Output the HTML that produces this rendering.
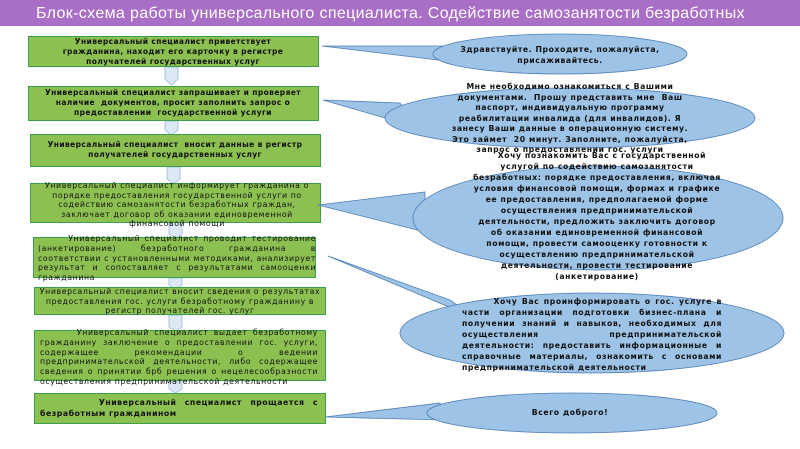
<!DOCTYPE html>
<html><head><meta charset="utf-8"><style>
body{margin:0;width:800px;height:449px;background:#fff;position:relative;overflow:hidden;font-family:"DejaVu Sans","Liberation Sans",sans-serif;}
.hd{position:absolute;left:0;top:0;width:800px;height:26px;background:#a96ec6;color:#fff;font:16px "Liberation Sans",sans-serif;padding-left:36px;box-sizing:border-box;line-height:27px;letter-spacing:0.35px;white-space:nowrap}
svg{position:absolute;left:0;top:0}
.t{position:absolute;font-size:7.5px;line-height:10px;color:#111;text-align:center;letter-spacing:0.4px}
.r{letter-spacing:0.6px;font-size:7.8px}
.b{font-weight:bold}
.e{font-weight:bold;font-size:7.7px;letter-spacing:0.6px}
.j{text-align:justify;text-align-last:left}
</style></head><body>
<div class="hd">Блок-схема работы универсального специалиста. Содействие самозанятости безработных</div>
<svg width="800" height="449">
<g fill="#dce9f5" stroke="#a8c4e0" stroke-width="1">
<path d="M165 67 h13 v12 l-6.5 6 l-6.5 -6z"/>
<path d="M165 121 h13 v9 l-6.5 5 l-6.5 -5z"/>
<path d="M167 167 h13 v12 l-6.5 5 l-6.5 -5z"/>
<path d="M169 222 h13 v12 l-6.5 4 l-6.5 -4z"/>
<path d="M169 278 h13 v7 l-6.5 4 l-6.5 -4z"/>
<path d="M169 315 h13 v12 l-6.5 4 l-6.5 -4z"/>
<path d="M169 381 h13 v8 l-6.5 4 l-6.5 -4z"/>
</g>
<g fill="#8cc152" stroke="#3aa04a" stroke-width="1">
<rect x="28.5" y="36.5" width="290" height="30"/>
<rect x="28.5" y="86.5" width="290" height="34"/>
<rect x="30.5" y="134.5" width="290" height="32"/>
<rect x="30.5" y="183.5" width="290" height="39"/>
<rect x="33.5" y="237.5" width="282" height="40"/>
<rect x="34.5" y="287.5" width="291" height="27"/>
<rect x="34.5" y="330.5" width="291" height="50"/>
<rect x="34.5" y="393.5" width="291" height="30"/>
</g>
<g fill="#9dc3e6" stroke="#4f7fb5" stroke-width="0.8">
<path d="M322 46 L445 46 L455 62 Z"/>
<ellipse cx="560" cy="54" rx="127" ry="20"/>
<path d="M323 100 L400 103 L420 128 Z"/>
<ellipse cx="570" cy="118" rx="185" ry="30"/>
<path d="M318 205 L425 192 L425 232 Z"/>
<ellipse cx="598" cy="218" rx="185" ry="52"/>
<path d="M328 256 L450 300 L475 318 Z"/>
<ellipse cx="592" cy="333" rx="192" ry="40"/>
<path d="M325 417 L440 403 L445 420 Z"/>
<ellipse cx="572" cy="413" rx="145" ry="20"/>
</g>
</svg>
<div class="t b" style="left:44px;top:37px;width:258px">Универсальный специалист приветствует гражданина, находит его карточку в регистре получателей государственных услуг</div>
<div class="t b" style="left:30px;top:88px;width:286px">Универсальный специалист запрашивает и проверяет наличие &nbsp;документов, просит заполнить запрос о предоставлении &nbsp;государственной услуги</div>
<div class="t b" style="left:32px;top:140px;width:286px">Универсальный специалист &nbsp;вносит данные в регистр получателей государственных услуг</div>
<div class="t r" style="left:36px;top:181px;width:282px;line-height:9.5px">Универсальный специалист информирует гражданина о порядке предоставления государственной услуги по содействию самозанятости безработных граждан, заключает договор об оказании единовременной финансовой помощи</div>
<div class="t r j" style="left:38px;top:234px;width:278px;line-height:9.8px">&nbsp;&nbsp;&nbsp;&nbsp;&nbsp;&nbsp;&nbsp;Универсальный специалист проводит тестирование (анкетирование) безработного гражданина в соответствии с установленными методиками, анализирует результат и сопоставляет с результатами самооценки гражданина</div>
<div class="t r" style="left:38px;top:287px;width:284px;line-height:9.5px">Универсальный специалист вносит сведения о результатах предоставления гос. услуги безработному гражданину в регистр получателей гос. услуг</div>
<div class="t r j" style="left:40px;top:328px;width:278px;line-height:9.8px">&nbsp;&nbsp;&nbsp;&nbsp;&nbsp;&nbsp;&nbsp;Универсальный специалист выдает безработному гражданину заключение о предоставлении гос. услуги, содержащее рекомендации о ведении предпринимательской деятельности, либо содержащее сведения о принятии брб решения о нецелесообразности осуществления предпринимательской деятельности</div>
<div class="t b j" style="left:40px;top:397px;width:278px;font-size:7.8px;line-height:11px;letter-spacing:0.5px">&nbsp;&nbsp;&nbsp;&nbsp;&nbsp;&nbsp;&nbsp;Универсальный специалист прощается с безработным гражданином</div>

<div class="t e" style="left:460px;top:44px;width:200px;line-height:11px">Здравствуйте. Проходите, пожалуйста, присаживайтесь.</div>
<div class="t e" style="left:445px;top:82px;width:250px;line-height:10.5px">Мне необходимо ознакомиться с Вашими документами. &nbsp;Прошу представить мне &nbsp;Ваш паспорт, индивидуальную программу реабилитации инвалида (для инвалидов). Я занесу Ваши данные в операционную систему. Это займет &nbsp;20 минут. Заполните, пожалуйста, запрос о предоставлении гос. услуги</div>
<div class="t e" style="left:472px;top:150px;width:250px;line-height:11px">&nbsp;&nbsp;&nbsp;Хочу познакомить Вас с государственной услугой по содействию самозанятости безработных: порядке предоставления, включая условия финансовой помощи, формах и графике ее предоставления, предполагаемой форме осуществления предпринимательской деятельности, предложить заключить договор об оказании единовременной финансовой помощи, провести самооценку готовности к осуществлению предпринимательской деятельности, провести тестирование (анкетирование)</div>
<div class="t e j" style="left:462px;top:296px;width:260px;line-height:11px">&nbsp;&nbsp;&nbsp;&nbsp;&nbsp;&nbsp;&nbsp;Хочу Вас проинформировать о гос. услуге в части организации подготовки бизнес-плана и получении знаний и навыков, необходимых для осуществления предпринимательской деятельности: предоставить информационные и справочные материалы, ознакомить с основами предпринимательской деятельности</div>
<div class="t e" style="left:500px;top:408px;width:140px">Всего доброго!</div>
</body></html>
